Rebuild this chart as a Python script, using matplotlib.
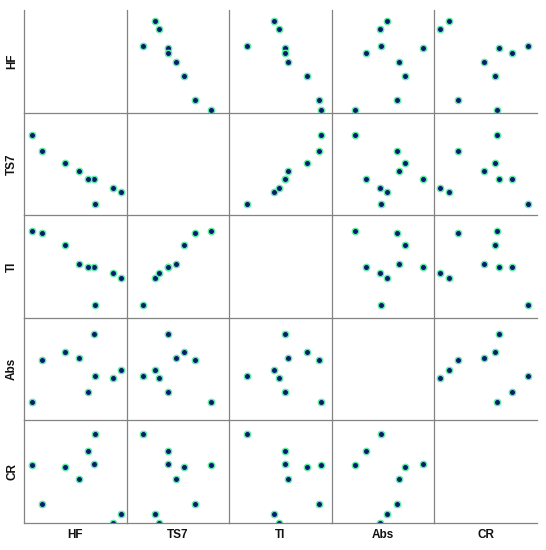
import matplotlib
matplotlib.use("Agg")
import matplotlib.pyplot as plt

# variables of the scatter matrix (0-100 scale)
names = ["HF", "TS7", "TI", "Abs", "CR"]
HF = [94.2, 86.4, 69.5, 67.8, 62.7, 53.9, 40.3, 17.3, 7.8]
TS7 = [27.8, 31.5, 15.9, 40.7, 40.0, 48.1, 55.6, 67.1, 82.7]
TI = [43.4, 48.8, 17.3, 54.2, 54.2, 57.6, 75.6, 87.5, 89.8]
Abs = [54.2, 46.8, 48.1, 89.2, 32.9, 65.4, 71.5, 63.7, 22.7]
CR = [14.2, 5.1, 91.5, 62.7, 75.3, 48.1, 59.3, 23.1, 61.4]
data = [HF, TS7, TI, Abs, CR]

W, H = 546, 550
fig = plt.figure(figsize=(W / 100, H / 100), dpi=100)

x0, y0, cell = 24, 10, 102.6
n = len(names)
line_col = "#838383"

for i in range(n):
    for j in range(n):
        left = (x0 + j * cell) / W
        bottom = 1 - (y0 + (i + 1) * cell) / H
        ax = fig.add_axes([left, bottom, cell / W, cell / H])
        if i != j:
            ax.plot(data[j], data[i], "o", ms=4.6, mfc="#0a1a6e",
                    mec="#62eaa6", mew=1.0, clip_on=True)
        ax.set_xlim(0, 100)
        ax.set_ylim(5, 105)
        ax.set_xticks([])
        ax.set_yticks([])
        for s in ["top", "right"]:
            ax.spines[s].set_visible(False)
        for s in ["left", "bottom"]:
            ax.spines[s].set_color(line_col)
            ax.spines[s].set_linewidth(0.9)
        ax.patch.set_alpha(0)

lab = dict(family="Liberation Sans", weight="bold", fontsize=8.5, color="#111111")
for k, name in enumerate(names):
    cy = 1 - (y0 + (k + 0.5) * cell) / H
    fig.text(12 / W, cy, name, rotation=90, ha="center", va="center", **lab)
    cx = (x0 + (k + 0.5) * cell) / W
    fig.text(cx, 1 - 535 / H, name, ha="center", va="center", **lab)

fig.savefig("out.png", dpi=100)
